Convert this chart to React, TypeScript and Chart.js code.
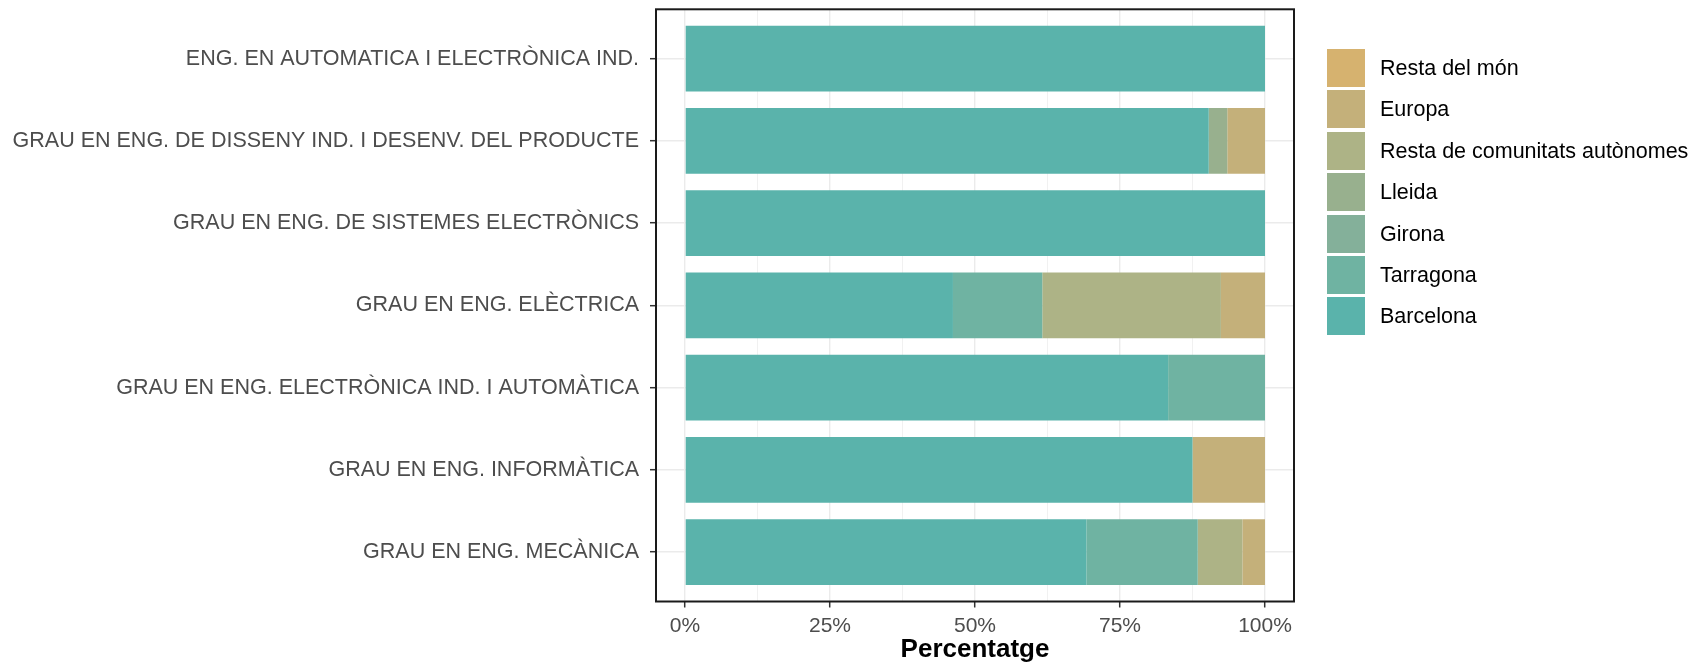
import React, { useEffect, useRef } from "react";
import { Chart, registerables } from "chart.js";

Chart.register(...registerables);

const categories = [
  "ENG. EN AUTOMATICA I ELECTRÒNICA IND.",
  "GRAU EN ENG. DE DISSENY IND. I DESENV. DEL PRODUCTE",
  "GRAU EN ENG. DE SISTEMES ELECTRÒNICS",
  "GRAU EN ENG. ELÈCTRICA",
  "GRAU EN ENG. ELECTRÒNICA IND. I AUTOMÀTICA",
  "GRAU EN ENG. INFORMÀTICA",
  "GRAU EN ENG. MECÀNICA",
];

const seriesNames = [
  "Barcelona",
  "Tarragona",
  "Girona",
  "Lleida",
  "Resta de comunitats autònomes",
  "Europa",
  "Resta del món",
];
const seriesColors = ["#5ab3ab", "#6fb3a2", "#84b09a", "#98b08e", "#adb386", "#c4b07a", "#d6b26f"];

const barcelona = [100, 90.3, 100, 46.2, 83.3, 87.5, 69.2];
const tarragona = [0, 0, 0, 15.4, 16.7, 0, 19.2];
const girona = [0, 0, 0, 0, 0, 0, 0];
const lleida = [0, 3.2, 0, 0, 0, 0, 0];
const restaComunitats = [0, 0, 0, 30.8, 0, 0, 7.7];
const europa = [0, 6.5, 0, 7.6, 0, 12.5, 3.9];
const restaMon = [0, 0, 0, 0, 0, 0, 0];
const seriesValues = [barcelona, tarragona, girona, lleida, restaComunitats, europa, restaMon];

const xTicks = [0, 12.5, 25, 37.5, 50, 62.5, 75, 87.5, 100];
const xTitle = "Percentatge";

const FONT = "'Liberation Sans', Arial, Helvetica, sans-serif";

const borderPlugin = {
  id: "panelBorder",
  afterDatasetsDraw(chart: any) {
    const { ctx, chartArea } = chart;
    ctx.save();
    ctx.strokeStyle = "#1a1a1a";
    ctx.lineWidth = 2;
    ctx.strokeRect(chartArea.left, chartArea.top, chartArea.right - chartArea.left, chartArea.bottom - chartArea.top);
    ctx.restore();
  },
};

const zeroPadding = (s: any) => {
  s.paddingTop = 0;
  s.paddingBottom = 0;
  s.paddingLeft = 0;
  s.paddingRight = 0;
};

export default function App() {
  const canvasRef = useRef<HTMLCanvasElement | null>(null);

  useEffect(() => {
    if (!canvasRef.current) return;
    const chart = new Chart(canvasRef.current, {
      type: "bar",
      data: {
        labels: categories,
        datasets: seriesNames.map((name, i) => ({
          label: name,
          data: seriesValues[i],
          backgroundColor: seriesColors[i],
          borderWidth: 0,
          barPercentage: 0.8,
          categoryPercentage: 1,
        })),
      },
      options: {
        indexAxis: "y",
        responsive: false,
        animation: false,
        devicePixelRatio: 1,
        layout: { padding: { left: 0, right: 413, top: 9.3, bottom: 0 } },
        plugins: { legend: { display: false }, tooltip: { enabled: false } },
        scales: {
          x: {
            type: "linear",
            stacked: true,
            min: -5,
            max: 105,
            afterBuildTicks: (s: any) => {
              s.ticks = xTicks.map((v) => ({ value: v }));
            },
            afterFit: (s: any) => {
              s.height = 63.5;
              zeroPadding(s);
            },
            border: { display: false },
            grid: {
              color: "#ebebeb",
              lineWidth: (c: any) => (c.tick && c.tick.value % 25 === 0 ? 1.4 : 0.7),
              drawTicks: true,
              tickLength: 6,
              tickWidth: 1.5,
              tickColor: (c: any) => (c.tick && c.tick.value % 25 === 0 ? "#333333" : "rgba(0,0,0,0)"),
            },
            ticks: {
              autoSkip: false,
              maxRotation: 0,
              padding: 6.5,
              color: "#4d4d4d",
              font: { family: FONT, size: 21 },
              callback: (v: any) => (Number(v) % 25 === 0 ? v + "%" : ""),
            },
            title: {
              display: true,
              text: xTitle,
              color: "#000000",
              font: { family: FONT, size: 26, weight: "bold" },
              padding: { top: 0, bottom: 0 },
            },
          },
          y: {
            type: "category",
            stacked: true,
            offset: true,
            afterBuildTicks: (s: any) => {
              s._startValue = -0.6;
              s._valueRange = 7.2;
            },
            afterFit: (s: any) => {
              s.width = 656;
              zeroPadding(s);
            },
            border: { display: false },
            grid: {
              offset: false,
              color: "#ebebeb",
              lineWidth: 1.4,
              drawTicks: true,
              tickLength: 6,
              tickWidth: 1.5,
              tickColor: "#333333",
            },
            ticks: {
              autoSkip: false,
              padding: 11,
              color: "#4d4d4d",
              font: { family: FONT, size: 21.5 },
            },
          },
        },
      },
      plugins: [borderPlugin],
    });
    return () => chart.destroy();
  }, []);

  const legendOrder = seriesNames.map((_, i) => i).reverse();

  return (
    <div style={{ position: "fixed", left: 0, top: 0, width: 1707, height: 665, background: "#ffffff" }}>
      <canvas ref={canvasRef} width={1707} height={665} style={{ width: 1707, height: 665, display: "block" }} />
      {legendOrder.map((idx, row) => (
        <div
          key={seriesNames[idx]}
          style={{ position: "absolute", left: 1327, top: 49 + row * 41.4, height: 38, display: "flex", alignItems: "center" }}
        >
          <div style={{ width: 38, height: 38, background: seriesColors[idx] }} />
          <span
            style={{
              marginLeft: 15,
              fontFamily: FONT,
              fontSize: 21.5,
              color: "#000000",
              whiteSpace: "nowrap",
              lineHeight: "38px",
            }}
          >
            {seriesNames[idx]}
          </span>
        </div>
      ))}
    </div>
  );
}
